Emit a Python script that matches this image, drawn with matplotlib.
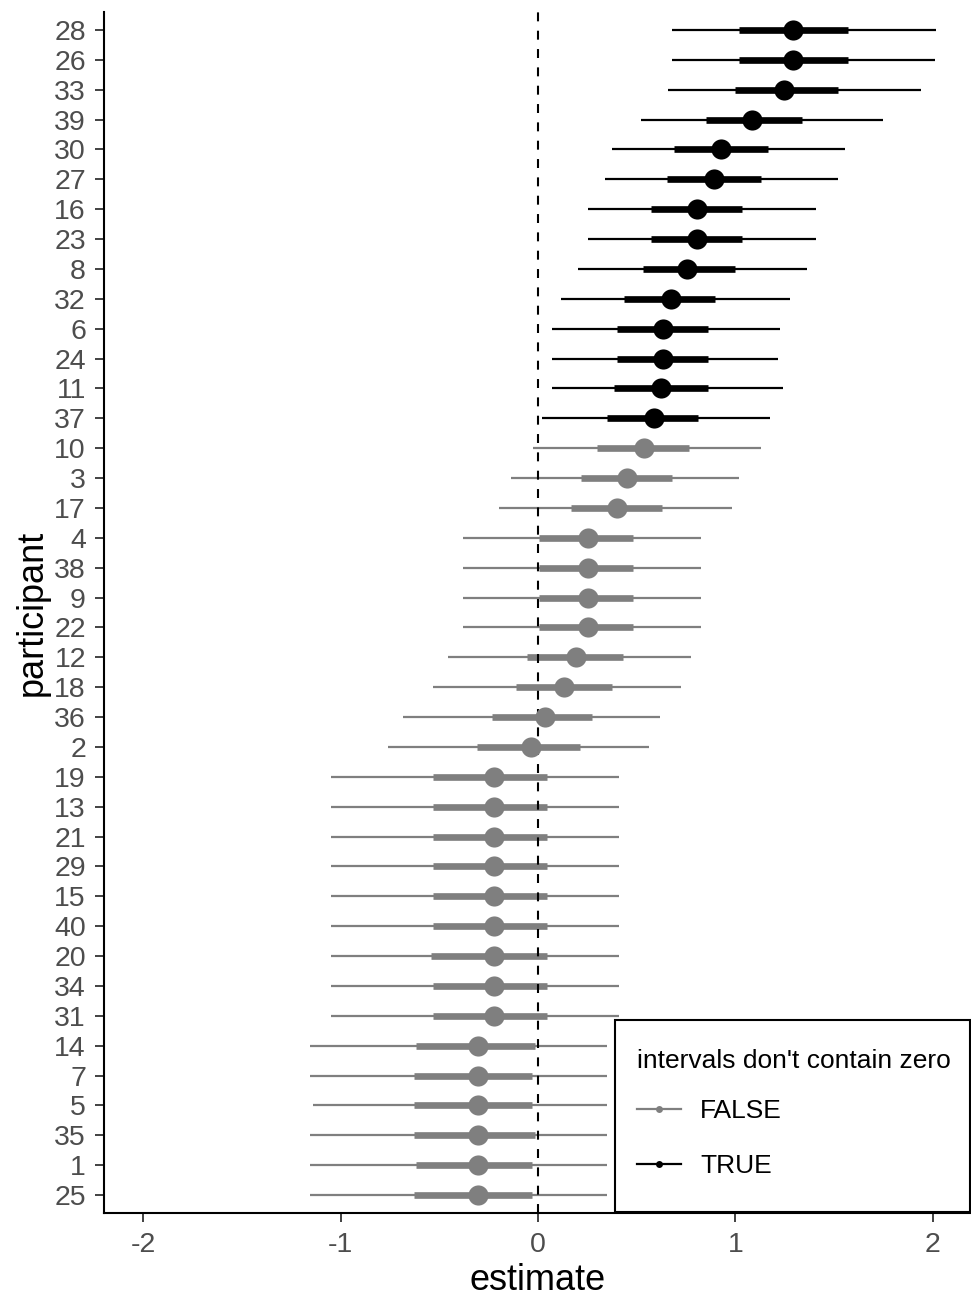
import matplotlib
matplotlib.use("Agg")
import matplotlib.pyplot as plt
from matplotlib.lines import Line2D
from matplotlib.patches import Rectangle
import numpy as np

plt.rcParams['font.family'] = ['Liberation Sans', 'DejaVu Sans']

participants = ["28", "26", "33", "39", "30", "27", "16", "23", "8", "32",
                "6", "24", "11", "37", "10", "3", "17", "4", "38", "9",
                "22", "12", "18", "36", "2", "19", "13", "21", "29", "15",
                "40", "20", "34", "31", "14", "7", "5", "35", "1", "25"]
estimate = [1.294, 1.294, 1.245, 1.086, 0.927, 0.892, 0.804, 0.804, 0.757, 0.672,
            0.635, 0.635, 0.623, 0.588, 0.537, 0.449, 0.399, 0.255, 0.255, 0.255,
            0.255, 0.193, 0.132, 0.035, -0.037, -0.222, -0.222, -0.222, -0.222, -0.222,
            -0.222, -0.222, -0.222, -0.222, -0.303, -0.303, -0.303, -0.303, -0.303, -0.303]
outer_lo = [0.68, 0.68, 0.66, 0.52, 0.375, 0.34, 0.253, 0.253, 0.204, 0.118,
            0.069, 0.069, 0.069, 0.022, -0.027, -0.137, -0.20, -0.382, -0.382, -0.382,
            -0.382, -0.455, -0.532, -0.686, -0.759, -1.047, -1.047, -1.047, -1.047, -1.047,
            -1.047, -1.047, -1.047, -1.047, -1.158, -1.158, -1.14, -1.158, -1.158, -1.158]
inner_lo = [1.02, 1.02, 1.00, 0.85, 0.69, 0.655, 0.571, 0.571, 0.534, 0.436,
            0.399, 0.399, 0.387, 0.351, 0.30, 0.216, 0.167, 0.007, 0.007, 0.007,
            0.007, -0.054, -0.113, -0.235, -0.308, -0.533, -0.533, -0.533, -0.533, -0.533,
            -0.533, -0.543, -0.533, -0.533, -0.617, -0.627, -0.627, -0.627, -0.617, -0.627]
inner_hi = [1.57, 1.57, 1.52, 1.34, 1.166, 1.13, 1.032, 1.032, 0.997, 0.899,
            0.863, 0.863, 0.863, 0.812, 0.764, 0.678, 0.63, 0.48, 0.48, 0.48,
            0.48, 0.432, 0.373, 0.275, 0.213, 0.044, 0.044, 0.044, 0.044, 0.044,
            0.044, 0.044, 0.044, 0.044, -0.017, -0.03, -0.03, -0.017, -0.03, -0.03]
outer_hi = [2.02, 2.01, 1.94, 1.75, 1.557, 1.52, 1.41, 1.41, 1.362, 1.277,
            1.226, 1.215, 1.24, 1.177, 1.128, 1.019, 0.982, 0.825, 0.825, 0.825,
            0.825, 0.774, 0.725, 0.616, 0.565, 0.409, 0.409, 0.409, 0.409, 0.409,
            0.409, 0.409, 0.409, 0.409, 0.349, 0.349, 0.349, 0.349, 0.349, 0.349]

x_ticks = [-2, -1, 0, 1, 2]
legend_title = "intervals don't contain zero"
legend_labels = ["FALSE", "TRUE"]
colors = {False: "#7F7F7F", True: "#000000"}

W, H = 971, 1299
fig = plt.figure(figsize=(W / 100, H / 100), dpi=100)
ax_l, ax_r, ax_t, ax_b = 104, 972, 12, 1213
ax = fig.add_axes([ax_l / W, 1 - ax_b / H, (ax_r - ax_l) / W, (ax_b - ax_t) / H])


def px_to_axes(px, py):
    return ((px - ax_l) / (ax_r - ax_l), (ax_b - py) / (ax_b - ax_t))


n = len(participants)
ypos = np.arange(n)[::-1]  # top row is first participant

for i in range(n):
    sig = (outer_lo[i] > 0) or (outer_hi[i] < 0)
    c = colors[sig]
    y = ypos[i]
    ax.plot([outer_lo[i], outer_hi[i]], [y, y], color=c, lw=1.6,
            solid_capstyle='butt', zorder=2)
    ax.plot([inner_lo[i], inner_hi[i]], [y, y], color=c, lw=4.8,
            solid_capstyle='butt', zorder=3)
    ax.plot([estimate[i]], [y], 'o', color=c, ms=14.5, mew=0, zorder=5)

ax.axvline(0, color='black', lw=1.5, dashes=(4.3, 4.5), zorder=4)

ax.set_xlim(-2.2, 2.2)
ax.set_ylim(-0.6, n - 1 + 0.6)
ax.set_xticks(x_ticks)
ax.set_xticklabels([str(t) for t in x_ticks])
ax.set_yticks(ypos)
ax.set_yticklabels(participants)

for s in ['top', 'right']:
    ax.spines[s].set_visible(False)
for s in ['left', 'bottom']:
    ax.spines[s].set_linewidth(1.5)
    ax.spines[s].set_color('black')

ax.tick_params(axis='both', length=6.5, width=1.3, color='#333333',
               labelsize=20.5, labelcolor='#4D4D4D')
ax.tick_params(axis='x', pad=7.5)
ax.tick_params(axis='y', pad=6.5)
ax.set_xlabel("estimate", fontsize=26, labelpad=3)
ax.set_ylabel("participant", fontsize=26, labelpad=3)

# legend frame (drawn separately to control padding)
x0, y0 = px_to_axes(615, 1212)
x1, y1 = px_to_axes(970, 1020)
frame = Rectangle((x0, y0), x1 - x0, y1 - y0, transform=ax.transAxes,
                  facecolor='white', edgecolor='black', lw=1.5, zorder=6,
                  clip_on=False)
ax.add_patch(frame)

handles = [Line2D([], [], color=colors[False], lw=1.6, marker='o', ms=5, mew=0),
           Line2D([], [], color=colors[True], lw=1.6, marker='o', ms=5, mew=0)]
ax_anchor = px_to_axes(637, 1049)
leg = ax.legend(handles, legend_labels, title=legend_title,
                loc='upper left', bbox_to_anchor=ax_anchor,
                fontsize=19, title_fontsize=19, frameon=False,
                borderpad=0, labelspacing=1.16,
                handlelength=1.65, handletextpad=0.75, borderaxespad=0)
leg._legend_box.align = "left"
leg._legend_box.sep = 19
leg.set_zorder(7)
leg.get_title().set_color('black')

fig.savefig("out.png", dpi=100)
